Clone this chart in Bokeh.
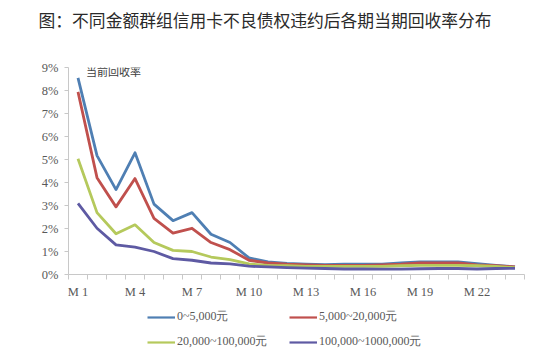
from bokeh.plotting import figure
from bokeh.layouts import column
from bokeh.models import (FixedTicker, NumeralTickFormatter, Legend, LegendItem,
                          Range1d, Label)
from bokeh.embed import file_html
from bokeh.resources import INLINE

months = list(range(1, 25))
tick_labels = {1: "M 1", 4: "M 4", 7: "M 7", 10: "M 10", 13: "M 13",
               16: "M 16", 19: "M 19", 22: "M 22"}

s1 = [8.55, 5.17, 3.69, 5.29, 3.06, 2.34, 2.69, 1.75, 1.39, 0.72, 0.55, 0.48,
      0.45, 0.43, 0.45, 0.45, 0.45, 0.50, 0.55, 0.55, 0.55, 0.47, 0.40, 0.33]
s2 = [7.94, 4.21, 2.94, 4.17, 2.44, 1.80, 2.01, 1.39, 1.08, 0.62, 0.50, 0.45,
      0.42, 0.40, 0.40, 0.40, 0.42, 0.45, 0.50, 0.50, 0.50, 0.42, 0.38, 0.33]
s3 = [5.03, 2.69, 1.77, 2.16, 1.39, 1.05, 1.00, 0.76, 0.65, 0.46, 0.40, 0.38,
      0.35, 0.35, 0.35, 0.35, 0.35, 0.38, 0.40, 0.40, 0.40, 0.38, 0.35, 0.30]
s4 = [3.09, 2.01, 1.29, 1.19, 1.00, 0.69, 0.62, 0.50, 0.46, 0.36, 0.33, 0.30,
      0.28, 0.26, 0.24, 0.24, 0.23, 0.23, 0.25, 0.26, 0.26, 0.24, 0.26, 0.27]
series = [s1, s2, s3, s4]
names = ["0~5,000元", "5,000~20,000元", "20,000~100,000元", "100,000~1000,000元"]
colors = ["#4f7fb3", "#c0504d", "#b5c95c", "#5e5aa3"]
title_text = "图：不同金额群组信用卡不良债权违约后各期当期回收率分布"

W = 534

# ---- title strip ----
p0 = figure(width=W, height=36, output_backend="svg", toolbar_location=None,
            x_range=Range1d(0, W), y_range=Range1d(0, 36), min_border=0,
            x_axis_type=None, y_axis_type=None, title=None)
p0.frame_align = False
p0.grid.visible = False
p0.outline_line_color = None
p0.add_layout(Label(x=38, y=17, x_units="screen", y_units="screen",
                    text=title_text, text_font="Noto Sans CJK SC",
                    text_font_size="16.8px", text_color="#2a2a2a",
                    text_baseline="middle"))

# ---- main chart ----
p = figure(width=W, height=265, output_backend="svg", toolbar_location=None,
           x_range=Range1d(0.5, 24.5), y_range=Range1d(0, 0.09), title=None,
           min_border_left=68, min_border_right=10, min_border_top=31,
           min_border_bottom=25)
p.frame_align = False
p.grid.visible = False
p.outline_line_color = None

for vals, c in zip(series, colors):
    p.line(months, [v / 100 for v in vals], line_color=c, line_width=2.8,
           line_join="round")

xa = p.xaxis[0]
xa.ticker = FixedTicker(ticks=list(tick_labels.keys()),
                        minor_ticks=[i + 0.5 for i in range(0, 25)])
xa.major_label_overrides = tick_labels
xa.major_tick_out = 0
xa.major_tick_in = 0
xa.minor_tick_out = 5
xa.minor_tick_in = 0
xa.axis_line_color = "#c8c8c8"
xa.minor_tick_line_color = "#c8c8c8"
xa.major_label_text_font = "Liberation Serif"
xa.major_label_text_font_size = "12.5px"
xa.major_label_text_color = "#595959"
xa.major_label_standoff = 5

ya = p.yaxis[0]
ya.ticker = FixedTicker(ticks=[i / 100 for i in range(10)], minor_ticks=[])
ya.formatter = NumeralTickFormatter(format="0%")
ya.major_tick_out = 4
ya.major_tick_in = 0
ya.axis_line_color = "#c8c8c8"
ya.major_tick_line_color = "#c8c8c8"
ya.major_label_text_font = "Liberation Serif"
ya.major_label_text_font_size = "12.5px"
ya.major_label_text_color = "#595959"
ya.major_label_standoff = 6

p.add_layout(Label(x=1.42, y=0.0884, text="当前回收率", text_font="Noto Sans CJK SC",
                   text_font_size="11px", text_color="#404040",
                   text_baseline="middle"))

# ---- legend strip ----
p2 = figure(width=W, height=56, output_backend="svg", toolbar_location=None,
            x_range=Range1d(100, 101), y_range=Range1d(100, 101), min_border=0,
            x_axis_type=None, y_axis_type=None, title=None)
p2.frame_align = False
p2.grid.visible = False
p2.outline_line_color = None
leg_r = [p2.line(months, [v / 100 for v in vals], line_color=c, line_width=2.2)
         for vals, c in zip(series, colors)]

leg_style = dict(label_text_font="Liberation Serif", label_text_font_size="12px",
                 label_text_color="#595959", glyph_width=28, glyph_height=14,
                 label_standoff=2, label_width=112, spacing=0, padding=0,
                 margin=0, border_line_color=None, background_fill_alpha=0,
                 orientation="horizontal")
leg1 = Legend(items=[LegendItem(label=names[0], renderers=[leg_r[0]]),
                     LegendItem(label=names[1], renderers=[leg_r[1]])],
              location=(147, 32), **leg_style)
leg2 = Legend(items=[LegendItem(label=names[2], renderers=[leg_r[2]]),
                     LegendItem(label=names[3], renderers=[leg_r[3]])],
              location=(147, 7), **leg_style)
p2.add_layout(leg1)
p2.add_layout(leg2)

open("out.html", "w").write(file_html(column(p0, p, p2, spacing=0), INLINE))
